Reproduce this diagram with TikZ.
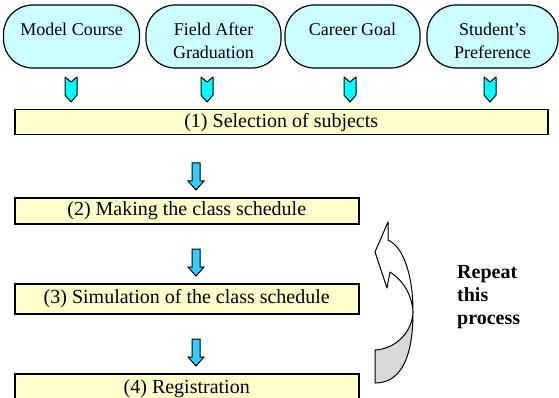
\documentclass[tikz,border=0pt]{standalone}
\usepackage{fontspec}
\setmainfont{Liberation Serif}
\usepackage{xcolor}
\usetikzlibrary{calc}
\definecolor{paleaqua}{RGB}{204,255,255}
\definecolor{brightaqua}{RGB}{0,255,255}
\definecolor{skyarrow}{RGB}{51,204,255}
\definecolor{paleyellow}{RGB}{255,255,204}
\newcommand{\topgap}{\rule{0pt}{22pt}}
\tikzset{
  goalbox/.style={draw,line width=1.2pt,fill=paleaqua,rounded corners=29pt,
    minimum height=63pt,inner sep=0pt,align=center,font=\fontsize{18}{23}\selectfont},
  stepbox/.style={draw,line width=1.5pt,fill=paleyellow,anchor=north west,
    inner sep=0pt,font=\fontsize{20}{24}\selectfont},
  chevron/.pic={\filldraw[fill=brightaqua,line width=1pt,line join=round]
    (-6,0) -- (0,5) -- (6,0) -- (6,18) -- (0,25) -- (-6,18) -- cycle;},
  blockdown/.pic={\filldraw[fill=skyarrow,line width=1pt,line join=miter]
    (-4,-27) -- (4,-27) -- (4,-9) -- (8,-9) -- (0,0) -- (-8,-9) -- (-4,-9) -- cycle;}
}

\begin{document}
\begin{tikzpicture}[x=1pt,y=-1pt]
  \useasboundingbox (0,0) rectangle (559,398);
  % what the choice of subjects depends on
  \foreach \n/\cx/\w/\lab in {m1/71.5/136/{Model Course\\\mbox{}},
      m2/213.5/135/{Field After\\Graduation},
      m3/352.5/135/{Career Goal\\\mbox{}},
      m4/492.5/131/{Student’s\\Preference}} {
    \node[goalbox,minimum width=\w pt] (\n) at (\cx,36.5) {\topgap\lab};
  }
  \foreach \cx in {71,207,350,490} \pic at (\cx,77) {chevron};
  % the four steps
  \foreach \s/\y/\w/\h/\lab in {s1/109/533/25/{(1) Selection of subjects},
      s2/197/344/26/{(2) Making the class schedule},
      s3/283/344/30/{(3) Simulation of the class schedule},
      s4/373/344/30/{(4) Registration}} {
    \node[stepbox,minimum width=\w pt,minimum height=\h pt] (\s) at (14,\y) {\lab};
  }
  \coordinate (axis) at (196,0);
  \foreach \j in {2,3,4} \pic at ($(s\j.north -| axis)+(0,-7)$) {blockdown};
  % curved arrow back up
  \filldraw[fill=gray!30,line width=1pt,line join=round]
    (375,383) .. controls (396,383) and (413,366) .. (413,312)
    .. controls (412,333) and (395,349) .. (375,350) -- cycle;
  \filldraw[fill=white,line width=1pt,line join=round]
    (413,312) .. controls (413,272) and (402,246) .. (388,240)
    -- (388,222) -- (375,252) -- (387,288) -- (390,272)
    .. controls (403,280) and (412,295) .. (413,312) -- cycle;
  \node[anchor=north west,inner sep=0pt,align=left,
    font=\fontsize{20}{23}\selectfont\bfseries] (rep) at (457,265) {Repeat\\this\\process};
\end{tikzpicture}
\end{document}
